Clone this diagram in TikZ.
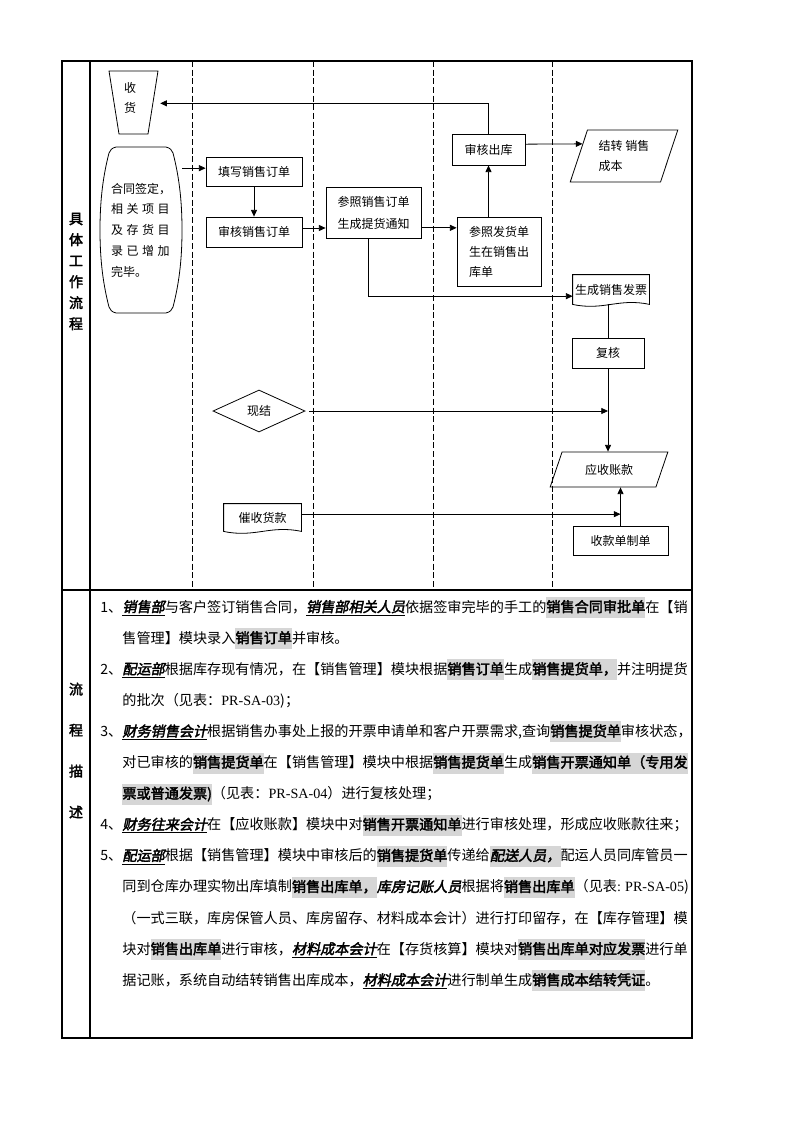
\documentclass[tikz,border=0pt]{standalone}
\usepackage{fontspec}
\setmainfont{Noto Sans CJK SC}[AutoFakeBold=2.5,AutoFakeSlant=0.2]
\newfontfamily\latf{Liberation Serif}
\usetikzlibrary{arrows.meta,shapes.geometric,calc}
\definecolor{hlg}{RGB}{214,214,214}
\newcommand\hlt[1]{{\setlength\fboxsep{0pt}\colorbox{hlg}{\rule[-4.5pt]{0pt}{15.75pt}\bfseries #1}}}
\newcommand\hlr[1]{{\setlength\fboxsep{0pt}\colorbox{hlg}{\rule[-4.5pt]{0pt}{15.75pt}\bfseries\itshape #1}}}
\newcommand\rolu[1]{\underline{\bfseries\itshape #1}}
\newcommand\roln[1]{{\bfseries\itshape #1}}
\newcommand\prsa[1]{{\latf PR-SA-#1}}
\newcommand\docsh[1]{\draw (#1.south west) -- (#1.north west) -- (#1.north east) -- (#1.south east) .. controls ($(#1.south west)!0.6!(#1.south east)+(0,5pt)$) and ($(#1.south west)!0.4!(#1.south east)+(0,-5pt)$) .. (#1.south west) -- cycle;}
\begin{document}
\begin{tikzpicture}[x=0.75pt,y=-0.75pt,line width=0.6pt,
  arr/.style={-{Triangle[length=5pt,width=4.5pt]}},
  fnine/.style={font=\fontsize{9}{15}\selectfont},
  box/.style={draw,rectangle,inner sep=0pt,fnine,align=center},
  lane/.style={dash pattern=on 4.5pt off 2pt},
  dl/.style={anchor=base west,font=\fontsize{10.6}{12}\selectfont,inner sep=0pt},
  lbl/.style={anchor=base west,font=\fontsize{10.6}{12}\selectfont,inner sep=0pt}]
\fill[white] (0,0) rectangle (794,1123);
\useasboundingbox (0,0) rectangle (794,1123);
% frame
\draw[line width=0.8pt] (62,61) rectangle (692,1038);
\draw[line width=0.8pt] (90,61) -- (90,1038);
\draw[line width=0.8pt] (62,590) -- (692,590);
\foreach \x in {192,313,433,552} \draw[lane] (\x,61) -- (\x,590);
% left labels
\node[font=\bfseries\fontsize{10.5}{15.75}\selectfont,align=center,inner sep=0pt] (lb1) at (76,271.5) {具\\体\\工\\作\\流\\程};
\node[font=\bfseries\fontsize{10.5}{30.75}\selectfont,align=center,inner sep=0pt] (lb2) at (76,750.5) {流\\程\\描\\述};
% shapes
\node[inner sep=0pt,minimum width=36.75pt,minimum height=47.25pt,align=center,fnine] (shh) at (130,98) {收\\货};
\draw (109,71) -- (158,71) -- (148,134) -- (119,134) -- cycle;
\node[inner sep=0pt,minimum width=61.5pt,minimum height=124.5pt,align=left,font=\fontsize{9}{15.56}\selectfont] (ht) at (141,230)
  {合同签定，\\\makebox[44pt][s]{相 关 项 目}\\\makebox[44pt][s]{及 存 货 目}\\\makebox[44pt][s]{录 已 增 加}\\完毕。};
\draw (116,147) -- (166,147) .. controls (170,148) and (172,150) .. (173,153)
  .. controls (180,180) and (182,205) .. (182,230) .. controls (182,255) and (180,280) .. (173,307)
  .. controls (172,310) and (170,312) .. (166,313) -- (116,313) .. controls (112,312) and (110,310) .. (109,307)
  .. controls (102,280) and (100,255) .. (100,230) .. controls (100,205) and (102,180) .. (109,153)
  .. controls (110,150) and (112,148) .. (116,147) -- cycle;
\node[box,minimum width=72pt,minimum height=21.75pt] (tx) at (254,171.5) {填写销售订单};
\node[box,minimum width=72pt,minimum height=22.5pt] (sh2) at (254,232) {审核销售订单};
\node[box,minimum width=71.25pt,minimum height=38.25pt,font=\fontsize{9}{16.5}\selectfont] (cz) at (373.5,212.5) {参照销售订单\\生成提货通知};
\node[box,minimum width=63pt,minimum height=51.75pt,align=left] (fh) at (499,251.5) {参照发货单\\生在销售出\\库单};
\node[box,minimum width=54.75pt,minimum height=23.25pt] (shck) at (488.5,149.5) {审核出库};
\node[draw,trapezium,trapezium left angle=69,trapezium right angle=111,trapezium stretches=true,minimum width=81pt,minimum height=39pt,inner sep=0pt,align=left,fnine] (jz) at (624,156) {结转 销售\\成本};
\node[inner sep=0pt,minimum width=57pt,minimum height=21.75pt,fnine] (fp) at (611,289.5) {生成销售发票};
\docsh{fp}
\node[box,minimum width=54pt,minimum height=22.5pt] (fuhe) at (608,353) {复核};
\node[draw,diamond,aspect=2.2,minimum width=69pt,minimum height=31.5pt,inner sep=0pt,fnine] (xj) at (259,411) {现结};
\node[draw,trapezium,trapezium left angle=61.5,trapezium right angle=118.5,trapezium stretches=true,minimum width=88.5pt,minimum height=26.25pt,inner sep=0pt,fnine] (ys) at (609,469.5) {应收账款};
\node[inner sep=0pt,minimum width=57.75pt,minimum height=20.25pt,fnine] (cs) at (262.5,517.5) {催收货款};
\docsh{cs}
\node[box,minimum width=71.25pt,minimum height=21.75pt] (skd) at (620.5,540.5) {收款单制单};
% connectors
\draw[arr] ([yshift=2.5pt]tx.west -| ht.east) -- ([yshift=2.5pt]tx.west);
\draw[arr] (tx.south) -- (sh2.north);
\draw[arr] ([yshift=3pt]sh2.east) -- ([yshift=3pt]sh2.east -| cz.west);
\draw[arr] ([yshift=-11.5pt]cz.east) -- ([yshift=-11.5pt]cz.east -| fh.west);
\draw[arr] (fh.north -| shck.south) -- (shck.south);
\draw[arr] (shck.north) |- ([xshift=4pt,yshift=-4pt]shh.east);
\draw[arr] ([yshift=4pt]shck.east) -- ($(jz.top left corner)!0.27!(jz.bottom left corner)$);
\draw[arr] ([xshift=-4pt]cz.south) |- ([yshift=-5pt]fp.west);
\draw (fp.south -| fuhe.north) -- (fuhe.north);
\draw[arr] (fuhe.south) -- (fuhe.south |- ys.north);
\draw[arr] ([xshift=3pt]xj.east) -- (xj.east -| fuhe.south);
\draw[arr] ([yshift=2.5pt]cs.east) -- ([yshift=2.5pt]cs.east -| skd.north);
\draw[arr] (skd.north) -- (skd.north |- ys.south);
% description
\node[lbl] (n1) at (100,612) {1、};
\node[dl] (d1) at (122,612) {\rolu{销售部}与客户签订销售合同，\rolu{销售部相关人员}依据签审完毕的手工的\hlt{销售合同审批单}在【销};
\node[dl] (d2) at (122,643.1) {售管理】模块录入\hlt{销售订单}并审核。};
\node[lbl] (n2) at (100,674.2) {2、};
\node[dl] (d3) at (122,674.2) {\rolu{配运部}根据库存现有情况，在【销售管理】模块根据\hlt{销售订单}生成\hlt{销售提货单，}并注明提货};
\node[dl] (d4) at (122,705.3) {的批次（见表：\prsa{03})；};
\node[lbl] (n3) at (100,736.4) {3、};
\node[dl] (d5) at (122,736.4) {\rolu{财务销售会计}根据销售办事处上报的开票申请单和客户开票需求,查询\hlt{销售提货单}审核状态，};
\node[dl] (d6) at (122,767.5) {对已审核的\hlt{销售提货单}在【销售管理】模块中根据\hlt{销售提货单}生成\hlt{销售开票通知单（专用发}};
\node[dl] (d7) at (122,798.6) {\hlt{票或普通发票)}（见表：\prsa{04}）进行复核处理；};
\node[lbl] (n4) at (100,829.7) {4、};
\node[dl] (d8) at (122,829.7) {\rolu{财务往来会计}在【应收账款】模块中对\hlt{销售开票通知单}进行审核处理，形成应收账款往来；};
\node[lbl] (n5) at (100,860.8) {5、};
\node[dl] (d9) at (122,860.8) {\rolu{配运部}根据【销售管理】模块中审核后的\hlt{销售提货单}传递给\hlr{配送人员，}配运人员同库管员一};
\node[dl] (d10) at (122,891.9) {同到仓库办理实物出库填制\hlt{销售出库单，}\roln{库房记账人员}根据将\hlt{销售出库单}（见表{\latf:} \prsa{05})};
\node[dl] (d11) at (122,923) {（一式三联，库房保管人员、库房留存、材料成本会计）进行打印留存，在【库存管理】模};
\node[dl] (d12) at (122,954.1) {块对\hlt{销售出库单}进行审核，\rolu{材料成本会计}在【存货核算】模块对\hlt{销售出库单对应发票}进行单};
\node[dl] (d13) at (122,985.2) {据记账，系统自动结转销售出库成本，\rolu{材料成本会计}进行制单生成\hlt{销售成本结转凭证}。};
\end{tikzpicture}
\end{document}
